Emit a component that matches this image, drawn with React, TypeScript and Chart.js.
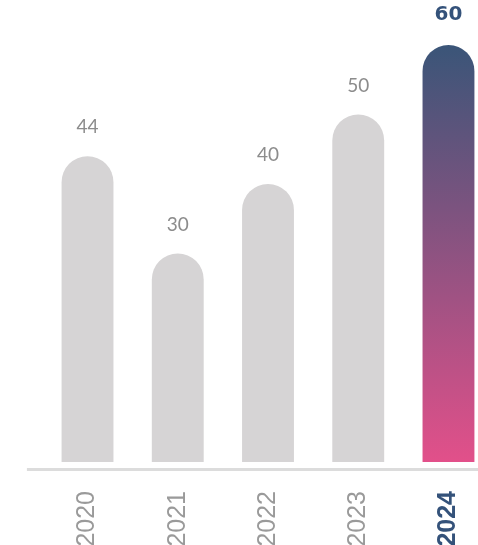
import React, { useEffect, useRef } from "react";
import { Chart, registerables } from "chart.js";

Chart.register(...registerables);

const years = ["2020", "2021", "2022", "2023", "2024"];
const values = [44, 30, 40, 50, 60];
const yMax = 60;

const GRAY_BAR = "#d6d4d5";
const GRAY_TEXT = "#8c8c8c";
const NAVY = "#34527a";
const GRAD_TOP = "#3a5578";
const GRAD_BOTTOM = "#e2508a";

const highlight = years.length - 1;

const baselinePlugin = {
  id: "baseline",
  beforeDatasetsDraw(chart: any) {
    const { ctx, chartArea } = chart;
    ctx.save();
    ctx.strokeStyle = "#dcdcdc";
    ctx.lineWidth = 3;
    ctx.beginPath();
    ctx.moveTo(chartArea.left - 15.5, chartArea.bottom + 7.5);
    ctx.lineTo(chartArea.right, chartArea.bottom + 7.5);
    ctx.stroke();
    ctx.restore();
  },
};

const valueLabelPlugin = {
  id: "valueLabels",
  afterDatasetsDraw(chart: any) {
    const { ctx } = chart;
    const meta = chart.getDatasetMeta(0);
    ctx.save();
    ctx.textAlign = "center";
    ctx.textBaseline = "middle";
    meta.data.forEach((bar: any, i: number) => {
      const isHi = i === highlight;
      ctx.font = isHi ? "bold 20px 'DejaVu Sans'" : "normal 19px Lato";
      ctx.fillStyle = isHi ? NAVY : GRAY_TEXT;
      ctx.fillText(String(values[i]), bar.x, bar.y - (isHi ? 30 : 29));
    });
    ctx.restore();
  },
};

export default function App() {
  const ref = useRef<HTMLCanvasElement>(null);
  useEffect(() => {
    if (!ref.current) return;
    const chart = new Chart(ref.current, {
      type: "bar",
      data: {
        labels: years,
        datasets: [
          {
            data: values,
            backgroundColor: (c: any) => {
              if (c.dataIndex !== highlight) return GRAY_BAR;
              const area = c.chart.chartArea;
              if (!area) return GRAD_BOTTOM;
              const g = c.chart.ctx.createLinearGradient(0, area.top, 0, area.bottom);
              g.addColorStop(0, GRAD_TOP);
              g.addColorStop(1, GRAD_BOTTOM);
              return g;
            },
            borderWidth: 0,
            borderRadius: { topLeft: 26, topRight: 26, bottomLeft: 0, bottomRight: 0 },
            borderSkipped: false,
            barPercentage: 0.575,
            categoryPercentage: 1,
          },
        ],
      },
      options: {
        responsive: false,
        animation: false,
        layout: { padding: { top: 45, left: 42.4, right: 26.4, bottom: 0 } },
        plugins: { legend: { display: false }, tooltip: { enabled: false } },
        scales: {
          y: { display: false, min: 0, max: yMax },
          x: {
            offset: true,
            grid: { display: false },
            border: { display: false },
            ticks: {
              minRotation: 90,
              maxRotation: 90,
              padding: 21,
              autoSkip: false,
              color: (c: any) => (c.index === highlight ? NAVY : "#9a9a9a"),
              font: (c: any) => ({
                family: "'Liberation Sans', Arial, sans-serif",
                size: 25,
                weight: c.index === highlight ? "bold" : "normal",
              }),
            },
            afterFit: (scale: any) => {
              scale.height = 83;
            },
          },
        },
      },
      plugins: [baselinePlugin, valueLabelPlugin],
    } as any);
    return () => chart.destroy();
  }, []);
  return (
    <div style={{ position: "fixed", left: 0, top: 0, width: 520, height: 545 }}>
      <canvas ref={ref} width={520} height={545} style={{ width: 520, height: 545, display: "block" }} />
    </div>
  );
}
